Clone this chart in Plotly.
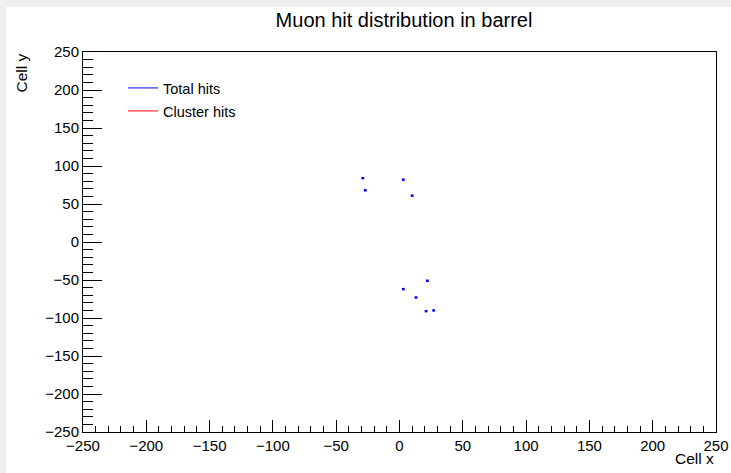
import plotly.graph_objects as go

# Data (cell coordinates of muon hits)
total_x = [-29, -27, 3, 10, 22, 3, 13, 21, 27]
total_y = [84, 68, 82, 61, -51, -62, -73, -91, -90]
cluster_x = []
cluster_y = []

x_range = [-250, 250]
y_range = [-250, 250]
tick_vals = [-250, -200, -150, -100, -50, 0, 50, 100, 150, 200, 250]

FONT = "Liberation Sans, Arial, Helvetica, sans-serif"

W, H = 731, 473
L, R, T, B = 83, 716, 52, 432

def px(xp):
    return (xp - L) / (R - L)

def py(yp):
    return (B - yp) / (B - T)

fig = go.Figure()

fig.add_trace(go.Scatter(
    x=total_x, y=total_y, mode="markers",
    marker=dict(symbol="line-ew", size=2, color="#0000ff",
                line=dict(color="#0000ff", width=2.5)),
    showlegend=False, hoverinfo="x+y",
))
fig.add_trace(go.Scatter(
    x=cluster_x, y=cluster_y, mode="markers",
    marker=dict(symbol="line-ew", size=2, color="#ff0000",
                line=dict(color="#ff0000", width=2.5)),
    showlegend=False,
))
# legend entries
fig.add_trace(go.Scatter(x=[None], y=[None], mode="lines", name="Total hits",
                         line=dict(color="#0000ff", width=1), legend="legend"))
fig.add_trace(go.Scatter(x=[None], y=[None], mode="lines", name="Cluster hits",
                         line=dict(color="#ff0000", width=1), legend="legend2"))

axis_common = dict(
    showgrid=False, zeroline=False, automargin=False,
    showline=True, linecolor="black", linewidth=1, mirror=True,
    ticks="inside", tickcolor="black", tickwidth=1,
    tickvals=tick_vals, tickfont=dict(family=FONT, size=15, color="black"),
    minor=dict(ticks="inside", dtick=10, tickcolor="black", tickwidth=1),
)

fig.update_xaxes(range=x_range, ticklen=12, minor_ticklen=6, **axis_common)
fig.update_yaxes(range=y_range, ticklen=19, minor_ticklen=10, **axis_common)

legend_common = dict(
    bgcolor="rgba(0,0,0,0)", borderwidth=0,
    font=dict(family=FONT, size=14.5, color="black"),
    xanchor="left", yanchor="middle", itemwidth=30,
)

fig.update_layout(
    width=W, height=H, autosize=False,
    margin=dict(l=L, r=W - R, t=T, b=H - B, pad=0, autoexpand=False),
    paper_bgcolor="white", plot_bgcolor="white",
    title=dict(text="Muon hit distribution in barrel", x=404 / W, xanchor="center",
               y=1 - 20 / H, yanchor="middle",
               font=dict(family=FONT, size=20, color="black")),
    legend=dict(x=px(123), y=py(88), **legend_common),
    legend2=dict(x=px(123), y=py(111), **legend_common),
    annotations=[
        dict(text="Cell x", xref="paper", yref="paper", x=1, y=py(459),
             xanchor="right", yanchor="middle", showarrow=False,
             font=dict(family=FONT, size=15.5, color="black")),
        dict(text="Cell y", xref="paper", yref="paper", x=px(21), y=1,
             xanchor="center", yanchor="top", textangle=-90, showarrow=False,
             font=dict(family=FONT, size=15.5, color="black")),
    ],
    shapes=[
        dict(type="rect", xref="paper", yref="paper", x0=px(0), x1=px(W),
             y0=py(7), y1=py(0), fillcolor="#efefef", line=dict(width=0), layer="below"),
        dict(type="rect", xref="paper", yref="paper", x0=px(0), x1=px(6),
             y0=py(H), y1=py(7), fillcolor="#efefef", line=dict(width=0), layer="below"),
    ],
)

fig.write_html(
    "out.html",
    post_script="document.documentElement.style.overflow='hidden';"
                "document.body.style.overflow='hidden';document.body.style.margin='0';",
)
